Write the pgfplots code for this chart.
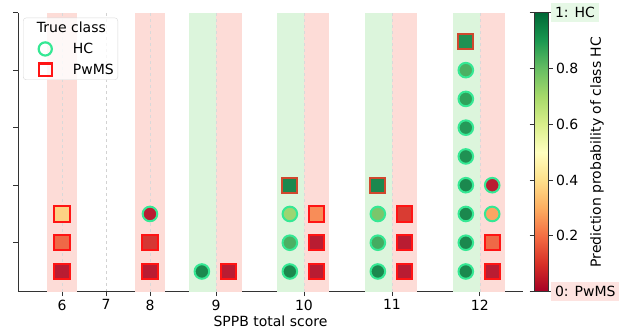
\documentclass[border=0pt]{standalone}
\usepackage{pgfplots}
\pgfplotsset{compat=1.18}
\usepackage{fontspec}
\setmainfont{DejaVu Sans}
\definecolor{hcedge}{HTML}{35E894}
\definecolor{pwedge}{HTML}{FF1414}
\definecolor{pwedgeB}{HTML}{D0482E}
\definecolor{bandgreen}{HTML}{DCF5DC}
\definecolor{bandpink}{HTML}{FDDCD7}
\definecolor{hcbg}{HTML}{E6F8E6}
\definecolor{pwbg}{HTML}{FDE3E0}
\definecolor{spine}{HTML}{333333}
\newcommand{\fs}{\fontsize{14}{16.5}\selectfont}
\pgfplotstableread{
x y c
1 3 0.03
1.59 1 0.95
2.59 1 0.95
2.59 2 0.85
2.59 3 0.72
3.59 1 0.95
3.59 2 0.86
3.59 3 0.78
4.59 1 0.95
4.59 2 0.95
4.59 3 0.95
4.59 4 0.95
4.59 5 0.93
4.59 6 0.91
4.59 7 0.89
4.59 8 0.85
4.89 3 0.28
4.89 4 0.03
}\hcdata
\pgfplotstableread{
x y c
0 1 0.03
0 2 0.18
0 3 0.37
1 1 0.03
1 2 0.09
1.89 1 0.03
2.89 1 0.03
2.89 2 0.03
2.89 3 0.24
3.89 1 0.03
3.89 2 0.03
3.89 3 0.10
4.89 1 0.03
4.89 2 0.18
}\pwdata
\pgfplotstableread{
x y c
2.59 4 0.95
3.59 4 0.95
4.59 9 0.93
}\pwgreen
\begin{document}
\begin{tikzpicture}
\path (-18pt,-42pt) rectangle (608pt,290pt);
\begin{axis}[
  at={(0,0)}, anchor=south west,
  scale only axis, width=505pt, height=279pt,
  xmin=-0.5, xmax=5.24, ymin=0.3, ymax=10,
  axis x line*=bottom, axis y line*=left,
  axis line style={draw=spine, line width=0.8pt, -},
  xtick={0,0.5,1,1.75,2.75,3.75,4.75},
  xticklabels={6,7,8,9,10,11,12},
  ytick={2,4,6,8,10}, yticklabels={},
  tick align=outside, major tick length=4.5pt,
  tick style={draw=spine, line width=0.8pt},
  xmajorgrids, grid style={dashed, gray!35, line width=0.6pt},
  xlabel={SPPB total score},
  xlabel style={yshift=1pt},
  ticklabel style={font=\fs},
  label style={font=\fs},
  /pgf/number format/assume math mode=true,
  colormap={RdYlGn}{rgb255=(165,0,38) rgb255=(215,48,39) rgb255=(244,109,67) rgb255=(253,174,97) rgb255=(254,224,139) rgb255=(255,255,191) rgb255=(217,239,139) rgb255=(166,217,106) rgb255=(102,189,99) rgb255=(26,152,80) rgb255=(0,104,55)},
  point meta min=0, point meta max=1,
  colorbar,
  colorbar style={
    at={(parent axis.north east)}, anchor=north west, xshift=2.5pt,
    scale only axis, width=14pt, height=279pt,
    ytick={0,0.2,0.4,0.6,0.8,1},
    yticklabels={{\hspace*{-5pt}\setlength{\fboxsep}{4pt}\colorbox{pwbg}{0: PwMS}},0.2,0.4,0.6,0.8,{\hspace*{-5pt}\setlength{\fboxsep}{4pt}\colorbox{hcbg}{1: HC}}},
    yticklabel style={font=\fs},
    axis line style={draw=spine, line width=0.6pt},
    tick style={draw=spine, line width=0.8pt},
    major tick length=4.5pt, tick align=outside,
    every axis y label/.style={at={(axis description cs:1,0.5)}, xshift=49pt, rotate=90, anchor=center, font=\fs},
    ylabel={Prediction probability of class HC},
  },
  legend style={at={(0.01,0.982)}, anchor=north west, draw=gray!30, rounded corners=3pt,
    fill=white, fill opacity=0.8, draw opacity=1, text opacity=1, font=\fs,
    inner sep=2pt, row sep=5pt},
  legend cell align=left,
]
% background bands
\addplot[draw=none, fill=bandpink, forget plot] coordinates {(-0.17,0.3) (0.17,0.3) (0.17,10) (-0.17,10)} --cycle;
\addplot[draw=none, fill=bandpink, forget plot] coordinates {(0.83,0.3) (1.17,0.3) (1.17,10) (0.83,10)} --cycle;
\addplot[draw=none, fill=bandgreen, forget plot] coordinates {(1.44,0.3) (1.75,0.3) (1.75,10) (1.44,10)} --cycle;
\addplot[draw=none, fill=bandpink, forget plot] coordinates {(1.75,0.3) (2.05,0.3) (2.05,10) (1.75,10)} --cycle;
\addplot[draw=none, fill=bandgreen, forget plot] coordinates {(2.44,0.3) (2.75,0.3) (2.75,10) (2.44,10)} --cycle;
\addplot[draw=none, fill=bandpink, forget plot] coordinates {(2.75,0.3) (3.04,0.3) (3.04,10) (2.75,10)} --cycle;
\addplot[draw=none, fill=bandgreen, forget plot] coordinates {(3.44,0.3) (3.75,0.3) (3.75,10) (3.44,10)} --cycle;
\addplot[draw=none, fill=bandpink, forget plot] coordinates {(3.75,0.3) (4.04,0.3) (4.04,10) (3.75,10)} --cycle;
\addplot[draw=none, fill=bandgreen, forget plot] coordinates {(4.44,0.3) (4.75,0.3) (4.75,10) (4.44,10)} --cycle;
\addplot[draw=none, fill=bandpink, forget plot] coordinates {(4.75,0.3) (5.04,0.3) (5.04,10) (4.75,10)} --cycle;
% grid lines over bands (faint)
\addplot[dashed, gray!30, line width=0.6pt, forget plot] coordinates {(0,0.3) (0,10)};
\addplot[dashed, gray!30, line width=0.6pt, forget plot] coordinates {(1,0.3) (1,10)};
\addplot[dashed, gray!30, line width=0.6pt, forget plot] coordinates {(1.75,0.3) (1.75,10)};
\addplot[dashed, gray!30, line width=0.6pt, forget plot] coordinates {(2.75,0.3) (2.75,10)};
\addplot[dashed, gray!30, line width=0.6pt, forget plot] coordinates {(3.75,0.3) (3.75,10)};
\addplot[dashed, gray!30, line width=0.6pt, forget plot] coordinates {(4.75,0.3) (4.75,10)};
% data
\addplot[scatter, only marks, forget plot, mark=*, mark size=7.3pt, scatter src=explicit,
  scatter/use mapped color={draw=hcedge, fill=mapped color},
  mark options={line width=2pt, fill opacity=0.93}] table[x=x, y=y, meta=c] {\hcdata};
\addplot[scatter, only marks, forget plot, mark=square*, mark size=7.6pt, scatter src=explicit,
  scatter/use mapped color={draw=pwedge, fill=mapped color},
  mark options={line width=2pt, fill opacity=0.93}] table[x=x, y=y, meta=c] {\pwdata};
\addplot[scatter, only marks, forget plot, mark=square*, mark size=7.6pt, scatter src=explicit,
  scatter/use mapped color={draw=pwedgeB, fill=mapped color},
  mark options={line width=2pt, fill opacity=0.93}] table[x=x, y=y, meta=c] {\pwgreen};
% legend
\addlegendimage{empty legend}
\addlegendentry{\hspace*{-18pt}True class}
\addlegendimage{legend image code/.code={\draw[draw=hcedge, fill=none, line width=2.2pt, draw opacity=1] (20pt,0pt) circle (6.6pt);}}
\addlegendentry{\hspace*{18pt}HC}
\addlegendimage{legend image code/.code={\draw[draw=pwedge, fill=none, line width=2.2pt, draw opacity=1, sharp corners] (13.6pt,-6.4pt) rectangle (26.4pt,6.4pt);}}
\addlegendentry{\hspace*{18pt}PwMS}
\end{axis}
\end{tikzpicture}
\end{document}
